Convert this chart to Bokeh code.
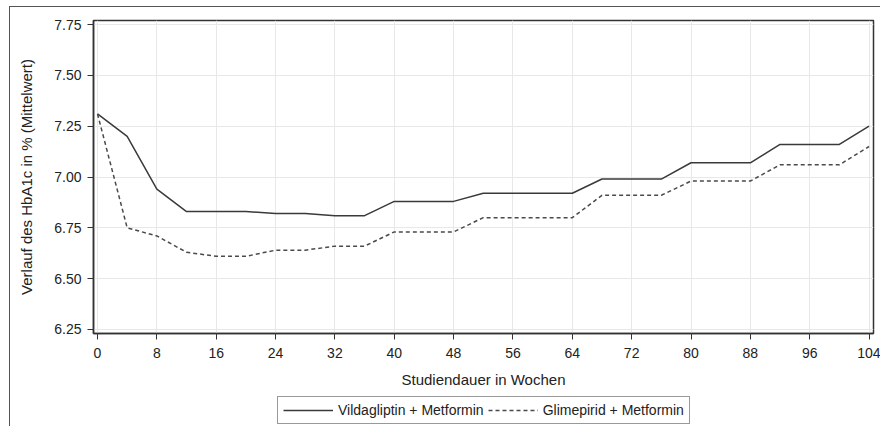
from bokeh.plotting import figure
from bokeh.layouts import column
from bokeh.models import FixedTicker, Legend, LegendItem, Range1d, PrintfTickFormatter
from bokeh.embed import file_html
from bokeh.resources import INLINE

# ---- data ----
weeks = list(range(0, 105, 4))
vildagliptin = [7.31, 7.20, 6.94, 6.83, 6.83, 6.83, 6.82, 6.82, 6.81, 6.81,
                6.88, 6.88, 6.88, 6.92, 6.92, 6.92, 6.92, 6.99, 6.99, 6.99,
                7.07, 7.07, 7.07, 7.16, 7.16, 7.16, 7.25]
glimepirid = [7.31, 6.75, 6.71, 6.63, 6.61, 6.61, 6.64, 6.64, 6.66, 6.66,
              6.73, 6.73, 6.73, 6.80, 6.80, 6.80, 6.80, 6.91, 6.91, 6.91,
              6.98, 6.98, 6.98, 7.06, 7.06, 7.06, 7.15]
series_labels = ["Vildagliptin + Metformin", "Glimepirid + Metformin"]
x_ticks = list(range(0, 105, 8))
y_ticks = [6.25, 6.50, 6.75, 7.00, 7.25, 7.50, 7.75]
x_title = "Studiendauer in Wochen"
y_title = "Verlauf des HbA1c in % (Mittelwert)"

FONT = "Liberation Sans"
DARK = "#333333"
SOLID = dict(line_color="#3a3a3a", line_width=1.5)
DASHED = dict(line_color="#4a4a4a", line_width=1.5, line_dash="4 3")

# ---- main chart ----
p = figure(width=870, height=385, output_backend="svg", toolbar_location=None,
           x_range=Range1d(-0.54, 104.6), y_range=Range1d(6.2303, 7.7697),
           min_border_left=83, min_border_top=13, min_border_right=7,
           min_border_bottom=59)
p.outline_line_color = DARK
p.outline_line_width = 1.5
p.background_fill_color = "white"
p.border_fill_color = "white"

p.line(weeks, vildagliptin, **SOLID)
p.line(weeks, glimepirid, **DASHED)

p.xaxis.ticker = FixedTicker(ticks=x_ticks)
p.yaxis.ticker = FixedTicker(ticks=y_ticks)
p.yaxis.formatter = PrintfTickFormatter(format="%.2f")
p.xgrid.grid_line_color = "#e8e8e8"
p.ygrid.grid_line_color = "#e8e8e8"

for ax in (p.xaxis[0], p.yaxis[0]):
    ax.axis_line_color = DARK
    ax.axis_line_width = 1.5
    ax.major_tick_line_color = DARK
    ax.major_tick_out = 6
    ax.major_tick_in = 0
    ax.minor_tick_out = 0
    ax.minor_tick_in = 0
    ax.major_label_text_font = FONT
    ax.major_label_text_font_size = "14px"
    ax.major_label_text_color = "#222222"
    ax.major_label_standoff = 6
    ax.axis_label_text_font = FONT
    ax.axis_label_text_font_size = "15px"
    ax.axis_label_text_font_style = "normal"
    ax.axis_label_text_color = "#222222"

p.xaxis.major_label_standoff = 8
p.xaxis.axis_label = x_title
p.xaxis.axis_label_standoff = 10
p.yaxis.axis_label = y_title
p.yaxis.axis_label_standoff = 16

# ---- legend strip below (series drawn outside its view, only keys show) ----
q = figure(width=870, height=34, output_backend="svg", toolbar_location=None,
           x_range=Range1d(200, 201), y_range=Range1d(0, 1),
           x_axis_location=None, y_axis_location=None,
           min_border=0, min_border_left=0, min_border_right=0,
           min_border_top=0, min_border_bottom=0)
q.grid.visible = False
q.outline_line_color = None
q.background_fill_color = "white"
q.border_fill_color = "white"
k1 = q.line(weeks, vildagliptin, **SOLID)
k2 = q.line(weeks, glimepirid, **DASHED)

legend = Legend(items=[LegendItem(label=series_labels[0], renderers=[k1]),
                       LegendItem(label=series_labels[1], renderers=[k2])],
                orientation="horizontal", location=(184, 2),
                label_text_font=FONT, label_text_font_size="14px",
                label_text_color="#222222",
                glyph_width=50, glyph_height=14, label_height=14,
                label_standoff=5, spacing=4, padding=5, margin=0,
                border_line_color=DARK, border_line_width=1,
                background_fill_color="white")
q.add_layout(legend, "center")

layout = column(p, q, spacing=0)
layout.styles = {"margin-left": "9px", "margin-top": "6px",
                 "border-left": "1px solid #555555",
                 "border-top": "1px solid #555555"}

open("out.html", "w").write(file_html(layout, INLINE))
